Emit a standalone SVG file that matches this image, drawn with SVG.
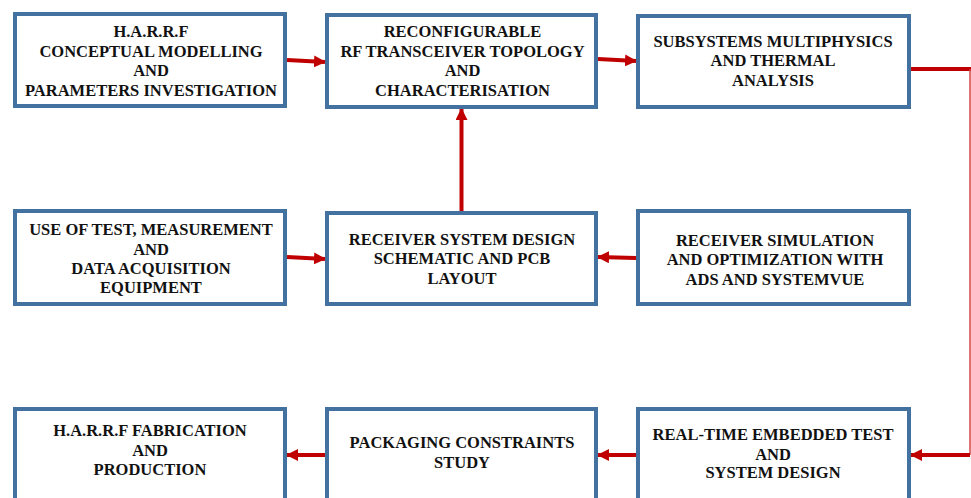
<svg xmlns="http://www.w3.org/2000/svg" width="971" height="498" viewBox="0 0 971 498">
<defs>
<style>
.box{fill:#fff;stroke:#4472A0;stroke-width:4}
.t{font-family:"Liberation Serif","Times New Roman",serif;font-weight:bold;font-size:16.5px;fill:#111;text-anchor:middle}
.c{stroke:#C00000;stroke-width:4;fill:none}
.thin{stroke:#D24545;stroke-width:1.5;fill:none}
</style>
<marker id="ah" viewBox="0 0 12 12" refX="11" refY="6" markerWidth="12" markerHeight="12" markerUnits="userSpaceOnUse" orient="auto">
<path d="M0,0 L12,6 L0,12 Z" fill="#C00000"/>
</marker>
</defs>
<rect width="971" height="498" fill="#fff"/>
<g id="connectors">
<line class="c" x1="287" y1="60" x2="325" y2="62" marker-end="url(#ah)"/>
<line class="c" x1="598" y1="59" x2="636" y2="61" marker-end="url(#ah)"/>
<line class="c" x1="461.5" y1="211" x2="461.5" y2="109" marker-end="url(#ah)"/>
<line class="c" x1="287" y1="257" x2="325" y2="259" marker-end="url(#ah)"/>
<line class="c" x1="636" y1="258" x2="598" y2="257" marker-end="url(#ah)"/>
<line class="c" x1="909" y1="69" x2="971" y2="69"/>
<line class="thin" x1="970" y1="69" x2="970" y2="455"/>
<line class="c" x1="970" y1="455" x2="911" y2="455" marker-end="url(#ah)"/>
<line class="c" x1="636" y1="455" x2="598" y2="455" marker-end="url(#ah)"/>
<line class="c" x1="325" y1="455" x2="287" y2="455" marker-end="url(#ah)"/>
</g>
<g id="n1"><rect class="box" x="15" y="14" width="270" height="92"/>
<text class="t" x="150"><tspan x="151" y="36.5">H.A.R.R.F</tspan><tspan x="151" y="56.5">CONCEPTUAL MODELLING</tspan><tspan x="151" y="76">AND</tspan><tspan x="151" y="95.5">PARAMETERS INVESTIGATION</tspan></text></g>
<g id="n2"><rect class="box" x="327" y="15" width="269" height="92"/>
<text class="t"><tspan x="462.5" y="36.5">RECONFIGURABLE</tspan><tspan x="462.5" y="56.5">RF TRANSCEIVER TOPOLOGY</tspan><tspan x="462.5" y="76">AND</tspan><tspan x="462.5" y="95.5">CHARACTERISATION</tspan></text></g>
<g id="n3"><rect class="box" x="638" y="16" width="271" height="91"/>
<text class="t"><tspan x="773" y="46.5">SUBSYSTEMS MULTIPHYSICS</tspan><tspan x="773" y="66">AND THERMAL</tspan><tspan x="773" y="85.5">ANALYSIS</tspan></text></g>
<g id="n4"><rect class="box" x="15" y="211" width="270" height="93"/>
<text class="t"><tspan x="151" y="235">USE OF TEST, MEASUREMENT</tspan><tspan x="151" y="254.5">AND</tspan><tspan x="151" y="274">DATA ACQUISITION</tspan><tspan x="151" y="293">EQUIPMENT</tspan></text></g>
<g id="n5"><rect class="box" x="327" y="213" width="269" height="91"/>
<text class="t"><tspan x="462" y="245">RECEIVER SYSTEM DESIGN</tspan><tspan x="462" y="264">SCHEMATIC AND PCB</tspan><tspan x="462" y="284">LAYOUT</tspan></text></g>
<g id="n6"><rect class="box" x="638" y="211" width="271" height="93"/>
<text class="t"><tspan x="775" y="245.5">RECEIVER SIMULATION</tspan><tspan x="775" y="265">AND OPTIMIZATION WITH</tspan><tspan x="775" y="285">ADS AND SYSTEMVUE</tspan></text></g>
<g id="n7"><rect class="box" x="15" y="409" width="270" height="100"/>
<text class="t"><tspan x="150" y="436">H.A.R.R.F FABRICATION</tspan><tspan x="150" y="455.5">AND</tspan><tspan x="150" y="475">PRODUCTION</tspan></text></g>
<g id="n8"><rect class="box" x="327" y="409" width="269" height="100"/>
<text class="t"><tspan x="462" y="448">PACKAGING CONSTRAINTS</tspan><tspan x="462" y="467.5">STUDY</tspan></text></g>
<g id="n9"><rect class="box" x="638" y="409" width="271" height="100"/>
<text class="t"><tspan x="773" y="440">REAL-TIME EMBEDDED TEST</tspan><tspan x="773" y="459.5">AND</tspan><tspan x="773" y="478">SYSTEM DESIGN</tspan></text></g>
</svg>
